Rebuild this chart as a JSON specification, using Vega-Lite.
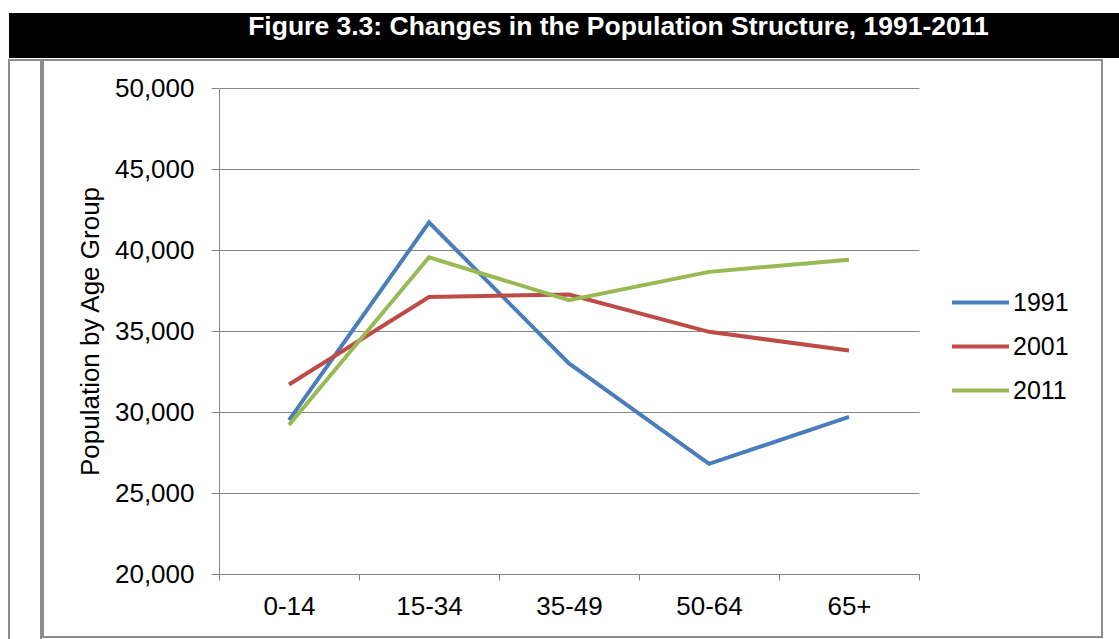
{
  "$schema": "https://vega.github.io/schema/vega-lite/v6.json",
  "padding": {"left": 8, "top": 13, "right": 0, "bottom": 0},
  "background": "white",
  "config": {
    "font": "Liberation Sans",
    "view": {"stroke": null},
    "concat": {"spacing": 0}
  },
  "spacing": 1,
  "vconcat": [
    {
      "width": 1111,
      "height": 45,
      "view": {"fill": "#000000", "stroke": null},
      "data": {"values": [{"label": "Figure 3.3: Changes in the Population Structure, 1991-2011"}]},
      "mark": {"type": "text", "color": "#ffffff", "fontSize": 26.5, "fontWeight": "bold", "baseline": "alphabetic", "dx": 54, "dy": -1},
      "encoding": {"text": {"field": "label", "type": "nominal"}}
    },
    {
      "spacing": 0,
      "hconcat": [
        {
          "width": 32,
          "height": 580,
          "view": {"stroke": "#8c8c8c", "strokeWidth": 2, "fill": null},
          "data": {"values": []},
          "mark": "point",
          "encoding": {}
        },
        {
          "width": 1059,
          "height": 577,
          "view": {"stroke": "#8c8c8c", "strokeWidth": 2, "fill": "#ffffff"},
          "data": {
            "values": [
              {"age": "0-14", "year": "1991", "population": 29500},
              {"age": "15-34", "year": "1991", "population": 41700},
              {"age": "35-49", "year": "1991", "population": 33000},
              {"age": "50-64", "year": "1991", "population": 26800},
              {"age": "65+", "year": "1991", "population": 29700},
              {"age": "0-14", "year": "2001", "population": 31700},
              {"age": "15-34", "year": "2001", "population": 37100},
              {"age": "35-49", "year": "2001", "population": 37250},
              {"age": "50-64", "year": "2001", "population": 34950},
              {"age": "65+", "year": "2001", "population": 33800},
              {"age": "0-14", "year": "2011", "population": 29200},
              {"age": "15-34", "year": "2011", "population": 39550},
              {"age": "35-49", "year": "2011", "population": 36900},
              {"age": "50-64", "year": "2011", "population": 38650},
              {"age": "65+", "year": "2011", "population": 39400}
            ]
          },
          "mark": {"type": "line", "strokeWidth": 4, "strokeJoin": "miter"},
          "encoding": {
            "x": {
              "field": "age",
              "type": "ordinal",
              "sort": ["0-14", "15-34", "35-49", "50-64", "65+"],
              "scale": {"type": "band", "range": [176, 876], "paddingInner": 0, "paddingOuter": 0},
              "axis": {
                "title": null,
                "offset": -63,
                "labelAngle": 0,
                "tickBand": "extent",
                "tickSize": 6,
                "tickColor": "#868686",
                "domainColor": "#868686",
                "labelFontSize": 26,
                "labelColor": "#000000",
                "labelPadding": 13,
                "grid": false
              }
            },
            "y": {
              "field": "population",
              "type": "quantitative",
              "scale": {"domain": [20000, 50000], "range": [514, 28], "nice": false, "zero": false},
              "axis": {
                "offset": -176,
                "values": [20000, 25000, 30000, 35000, 40000, 45000, 50000],
                "format": ",.0f",
                "tickSize": 8,
                "tickColor": "#868686",
                "domainColor": "#868686",
                "grid": true,
                "gridColor": "#868686",
                "gridWidth": 1,
                "labelFontSize": 26,
                "labelColor": "#000000",
                "labelPadding": 17,
                "title": "Population by Age Group",
                "titleFontSize": 26,
                "titleFontWeight": "normal",
                "titleColor": "#000000",
                "titlePadding": 11
              }
            },
            "color": {
              "field": "year",
              "type": "nominal",
              "scale": {"domain": ["1991", "2001", "2011"], "range": ["#4A7EBB", "#BE4B48", "#98B954"]},
              "legend": {
                "title": null,
                "orient": "none",
                "legendX": 941,
                "legendY": 259,
                "padding": 0,
                "symbolType": "stroke",
                "symbolSize": 3249,
                "symbolStrokeWidth": 4,
                "labelFontSize": 25,
                "labelColor": "#000000",
                "labelOffset": 2,
                "rowPadding": -14
              }
            }
          }
        }
      ]
    }
  ]
}
